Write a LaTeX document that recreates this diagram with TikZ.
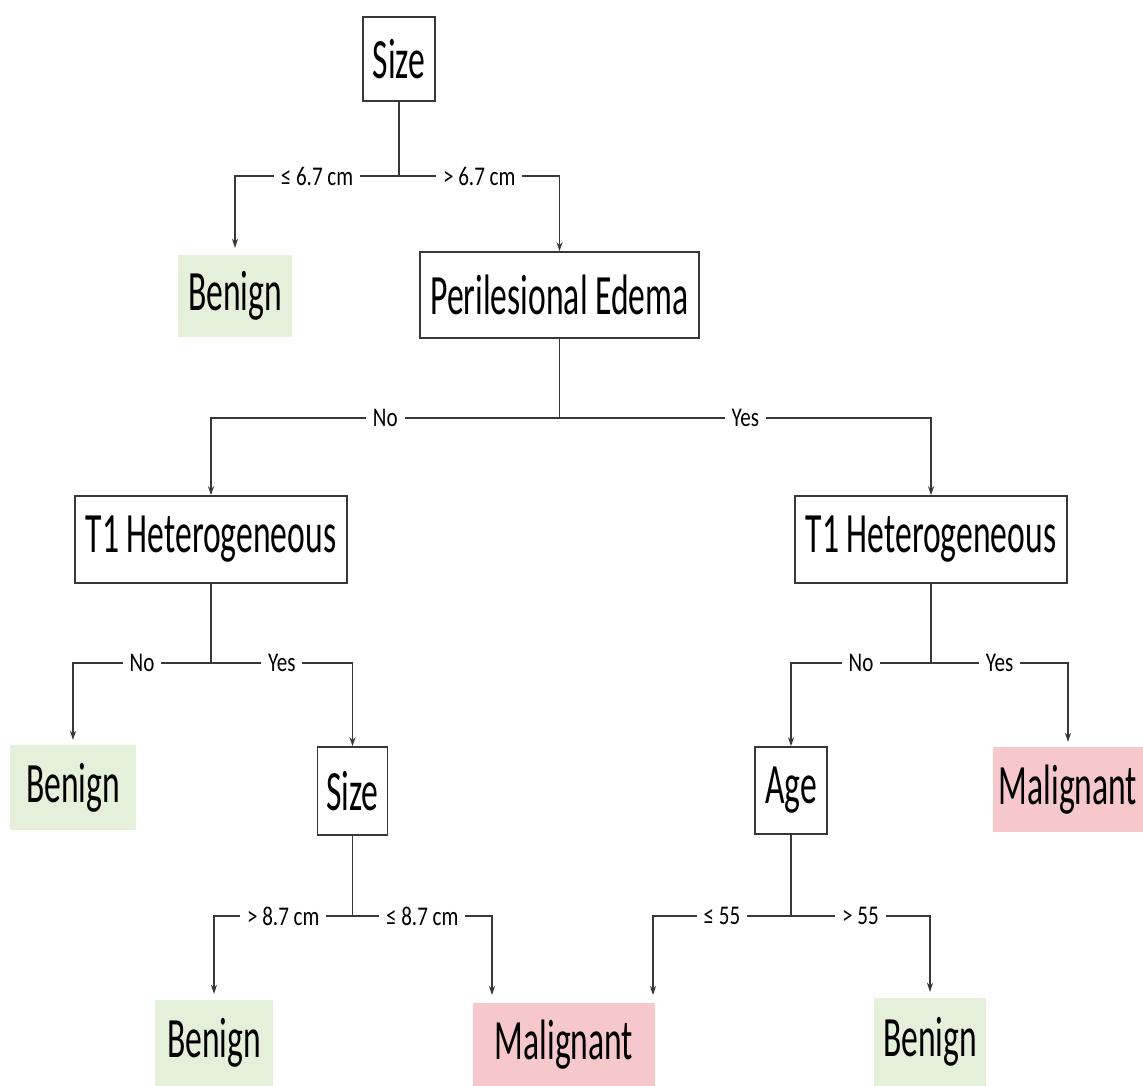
\documentclass[tikz,border=0pt]{standalone}
\usepackage{fontspec}
\setmainfont{Carlito}
\newfontfamily\boxfont{Carlito}[FakeStretch=0.59]
\newfontfamily\labfont{Carlito}[FakeStretch=0.78]
\usetikzlibrary{arrows.meta}
\definecolor{leafgreen}{RGB}{228,240,218}
\definecolor{leafpink}{RGB}{246,200,204}
\definecolor{linegray}{RGB}{55,55,55}
\begin{document}
\begin{tikzpicture}[x=1pt,y=-1pt,
  decision/.style={draw=linegray, line width=1.6pt, fill=white, inner sep=0pt,
    font=\boxfont\fontsize{57}{60}\selectfont},
  leaf/.style={inner sep=0pt, text=black, font=\boxfont\fontsize{57}{60}\selectfont},
  benign/.style={leaf, fill=leafgreen},
  malig/.style={leaf, fill=leafpink},
  conn/.style={draw=linegray, line width=1.3pt},
  arr/.style={conn, -{Stealth[length=9pt,width=6pt]}},
  lab/.style={fill=white, inner xsep=7pt, inner ysep=2pt, text=black,
    font=\labfont\fontsize{27}{30}\selectfont},
  every label text/.style={}]
\useasboundingbox[fill=white] (0,0) rectangle (1143,1086);

% decision nodes
\node[decision, minimum width=72pt, minimum height=84pt] (size1) at (399,59) {Size};
\node[decision, minimum width=279pt, minimum height=86pt] (peri) at (559.5,295) {Perilesional Edema};
\node[decision, minimum width=272pt, minimum height=87pt] (t1l) at (211,539.5) {T1 Heterogeneous};
\node[decision, minimum width=272pt, minimum height=87pt] (t1r) at (931,539.5) {T1 Heterogeneous};
\node[decision, minimum width=70pt, minimum height=88pt] (size2) at (352.5,791) {Size};
\node[decision, minimum width=72pt, minimum height=87pt] (age) at (791,790.5) {Age};

% leaves
\node[benign, minimum width=114pt, minimum height=82pt] (ben1) at (235,296) {Benign};
\node[benign, minimum width=126pt, minimum height=85pt] (ben2) at (73,787.5) {Benign};
\node[malig, minimum width=150pt, minimum height=85pt] (mal1) at (1068,789.5) {Malignant};
\node[benign, minimum width=118pt, minimum height=86pt] (ben3) at (214,1043) {Benign};
\node[malig, minimum width=182pt, minimum height=83pt] (mal2) at (564,1044.5) {Malignant};
\node[benign, minimum width=112pt, minimum height=88pt] (ben4) at (930,1042) {Benign};

% junctions
\coordinate (j1) at (399,176);
\coordinate (j2) at (559.5,418);
\coordinate (j3) at (211,663);
\coordinate (j4) at (931,663);
\coordinate (j5) at (352.5,916);
\coordinate (j6) at (791,916);
\coordinate (m2a) at (492,995);
\coordinate (m2b) at (653,995);

% split 1
\draw[conn] (size1) -- (j1);
\draw[arr] (j1) -| node[lab,pos=0.25]{≤ 6.7 cm} ([yshift=7pt]ben1.north);
\draw[arr] (j1) -| node[lab,pos=0.25]{> 6.7 cm} (peri.north);
% split 2
\draw[conn] (peri) -- (j2);
\draw[arr] (j2) -| node[lab,pos=0.25]{No} (t1l.north);
\draw[arr] (j2) -| node[lab,pos=0.25]{Yes} (t1r.north);
% split 3
\draw[conn] (t1l) -- (j3);
\draw[arr] (j3) -| node[lab,pos=0.25]{No} ([yshift=5pt]ben2.north);
\draw[arr] (j3) -| node[lab,pos=0.25]{Yes} (size2.north);
% split 4
\draw[conn] (t1r) -- (j4);
\draw[arr] (j4) -| node[lab,pos=0.25]{No} (age.north);
\draw[arr] (j4) -| node[lab,pos=0.25]{Yes} ([yshift=5pt]mal1.north);
% split 5
\draw[conn] (size2) -- (j5);
\draw[arr] (j5) -| node[lab,pos=0.25]{> 8.7 cm} ([yshift=6pt]ben3.north);
\draw[arr] (j5) -| node[lab,pos=0.25]{≤ 8.7 cm} (m2a);
% split 6
\draw[conn] (age) -- (j6);
\draw[arr] (j6) -| node[lab,pos=0.25]{≤ 55} (m2b);
\draw[arr] (j6) -| node[lab,pos=0.25]{> 55} ([yshift=6pt]ben4.north);
\end{tikzpicture}
\end{document}
